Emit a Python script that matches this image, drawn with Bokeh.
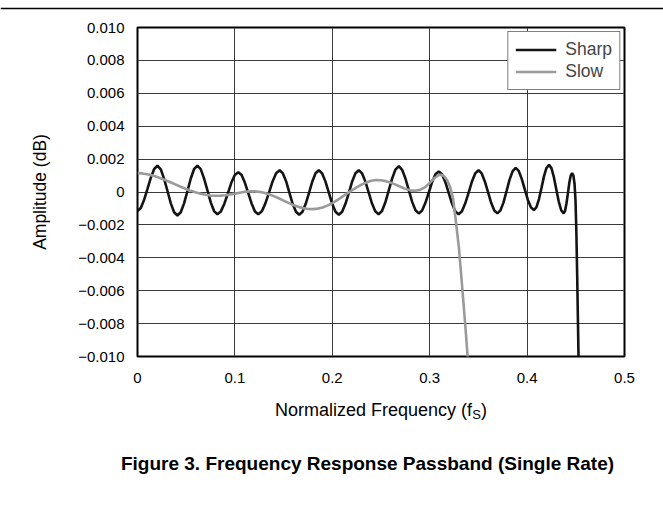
from bokeh.plotting import figure
from bokeh.models import (Range1d, FixedTicker, CustomJSTickFormatter,
                          Legend, LegendItem, Span)
from bokeh.layouts import column
from bokeh.embed import file_html
from bokeh.resources import INLINE
from bokeh.core.properties import value

# ---------------- data ----------------
sharp_freq = [
    0.0000, 0.0034, 0.0068, 0.0103, 0.0137, 0.0171, 0.0205,
    0.0239, 0.0273, 0.0308, 0.0342, 0.0376, 0.0410,
    0.0444, 0.0478, 0.0513, 0.0547, 0.0581, 0.0615,
    0.0649, 0.0683, 0.0718, 0.0752, 0.0786, 0.0820,
    0.0856, 0.0892, 0.0928, 0.0963, 0.0999, 0.1035,
    0.1069, 0.1103, 0.1138, 0.1172, 0.1206, 0.1240,
    0.1277, 0.1313, 0.1350, 0.1387, 0.1423, 0.1460,
    0.1493, 0.1527, 0.1560, 0.1593, 0.1627, 0.1660,
    0.1694, 0.1727, 0.1761, 0.1795, 0.1828, 0.1862,
    0.1896, 0.1930, 0.1965, 0.1999, 0.2033, 0.2067,
    0.2101, 0.2135, 0.2170, 0.2204, 0.2238, 0.2272,
    0.2306, 0.2340, 0.2374, 0.2407, 0.2441, 0.2475,
    0.2510, 0.2544, 0.2579, 0.2614, 0.2648, 0.2683,
    0.2717, 0.2751, 0.2786, 0.2820, 0.2854, 0.2888,
    0.2922, 0.2956, 0.2991, 0.3025, 0.3059, 0.3093,
    0.3127, 0.3161, 0.3195, 0.3229, 0.3263, 0.3297,
    0.3331, 0.3365, 0.3400, 0.3434, 0.3468, 0.3502,
    0.3534, 0.3566, 0.3599, 0.3631, 0.3663, 0.3695,
    0.3726, 0.3758, 0.3789, 0.3820, 0.3852, 0.3883,
    0.3914, 0.3945, 0.3977, 0.4008, 0.4039, 0.4070,
    0.4096, 0.4122, 0.4148, 0.4173, 0.4199, 0.4225,
    0.4250, 0.4275, 0.4300, 0.4325, 0.4350, 0.4375,
    0.4390, 0.4404, 0.4419, 0.4433, 0.4448, 0.4462,
    0.4475, 0.4487, 0.4497, 0.4506, 0.4514, 0.4521, 0.4528, 0.4532,
]
sharp_amp = [
    -0.00115, -0.00097, -0.000475, 0.00020, 0.000875, 0.00140, 0.00160,
    0.00138, 0.00080, 0.00006, -0.00069, -0.00123, -0.00143,
    -0.00123, -0.00069, 0.00006, 0.00082, 0.00140, 0.00160,
    0.00139, 0.00083, 0.00010, -0.00063, -0.00116, -0.00135,
    -0.00118, -0.00071, -0.00008, 0.00056, 0.00103, 0.00120,
    0.00103, 0.00056, -0.00008, -0.00071, -0.00118, -0.00135,
    -0.00117, -0.00069, -0.00004, 0.00064, 0.00114, 0.00132,
    0.00113, 0.00063, -0.00005, -0.00072, -0.00120, -0.00138,
    -0.00120, -0.00072, -0.00005, 0.00064, 0.00114, 0.00132,
    0.00113, 0.00063, -0.00005, -0.00072, -0.00120, -0.00138,
    -0.00120, -0.00072, -0.00005, 0.00064, 0.00114, 0.00132,
    0.00113, 0.00063, -0.00004, -0.00069, -0.00117, -0.00135,
    -0.00116, -0.00064, 0.00008, 0.00081, 0.00136, 0.00157,
    0.00135, 0.00082, 0.00010, -0.00060, -0.00111, -0.00130,
    -0.00113, -0.00066, -0.00003, 0.00061, 0.00108, 0.00125,
    0.00108, 0.00060, -0.00005, -0.00070, -0.00118, -0.00135,
    -0.00117, -0.00069, -0.00004, 0.00064, 0.00114, 0.00132,
    0.00113, 0.00064, -0.00001, -0.00066, -0.00113, -0.00130,
    -0.00112, -0.00063, 0.00005, 0.00075, 0.00127, 0.00147,
    0.00128, 0.00080, 0.00015, -0.00048, -0.00093, -0.00110,
    -0.00092, -0.00043, 0.00025, 0.00095, 0.00146, 0.00165,
    0.00145, 0.00090, 0.00015, -0.00058, -0.00111, -0.00130,
    -0.00114, -0.00070, -0.00008, 0.00054, 0.00100, 0.00115,
    0.00100, 0.00050, -0.00050, -0.00250, -0.00500, -0.00750, -0.01000, -0.01150,
]

slow_freq = [
    0.000, 0.005, 0.010, 0.015, 0.020, 0.025, 0.030, 0.035, 0.040, 0.045,
    0.050, 0.055, 0.060, 0.065, 0.070, 0.075, 0.080, 0.085, 0.090, 0.095,
    0.100, 0.105, 0.110, 0.115, 0.120, 0.125, 0.130, 0.135, 0.140, 0.145,
    0.150, 0.155, 0.160, 0.165, 0.170, 0.175, 0.180, 0.185, 0.190, 0.195,
    0.200, 0.205, 0.210, 0.215, 0.220, 0.225, 0.230, 0.235, 0.240, 0.245,
    0.250, 0.255, 0.260, 0.265, 0.270, 0.275, 0.280, 0.285, 0.290, 0.295,
    0.300, 0.305, 0.309, 0.312, 0.315, 0.318, 0.321, 0.324, 0.3265, 0.330,
    0.3334, 0.3368, 0.3392, 0.3400,
]
slow_amp = [
    0.00115, 0.00113, 0.00108, 0.00101, 0.00092, 0.00081, 0.00069, 0.00056, 0.00043, 0.00030,
    0.00018, 0.00007, -0.00003, -0.00011, -0.00017, -0.00021, -0.00023, -0.00022, -0.00020, -0.00015,
    -0.00010, -0.00004, 0.00001, 0.00004, 0.00004, 0.00001, -0.00005, -0.00014, -0.00025, -0.00038,
    -0.00052, -0.00066, -0.00079, -0.00090, -0.00098, -0.00103, -0.00104, -0.00101, -0.00094, -0.00083,
    -0.00068, -0.00050, -0.00030, -0.00010, 0.00010, 0.00028, 0.00045, 0.00058, 0.00068, 0.00073,
    0.00071, 0.00066, 0.00057, 0.00045, 0.00032, 0.00019, 0.00010, 0.00007, 0.00013, 0.00028,
    0.00055, 0.00085, 0.00102, 0.00105, 0.00095, 0.00070, 0.00030, -0.00040, -0.00160, -0.00340,
    -0.00580, -0.00830, -0.01020, -0.01090,
]

x_ticks = [0.0, 0.1, 0.2, 0.3, 0.4, 0.5]
x_tick_labels = ["0", "0.1", "0.2", "0.3", "0.4", "0.5"]
y_ticks = [-0.010, -0.008, -0.006, -0.004, -0.002, 0.0,
           0.002, 0.004, 0.006, 0.008, 0.010]
y_tick_labels = ["\u22120.010", "\u22120.008", "\u22120.006", "\u22120.004", "\u22120.002", "0",
                 "0.002", "0.004", "0.006", "0.008", "0.010"]
series_names = ["Sharp", "Slow"]
x_label_main = "Normalized Frequency (f"
x_label_sub = "S"
x_label_end = ")"
y_label = "Amplitude (dB)"
caption = "Figure 3. Frequency Response Passband (Single Rate)"

FONT = "Liberation Sans"
W = 663

# ---------------- top rule ----------------
top = figure(width=W, height=12, output_backend="svg", toolbar_location=None,
             x_range=Range1d(0, W), y_range=Range1d(0, 12),
             x_axis_location=None, y_axis_location=None, min_border=0,
             frame_align=False)
top.outline_line_color = None
top.grid.visible = False
top.add_layout(Span(location=4, dimension="width", line_color="black", line_width=1.5))

# ---------------- main chart ----------------
p = figure(width=W, height=386, output_backend="svg", toolbar_location=None,
           x_range=Range1d(0, 0.5), y_range=Range1d(-0.010, 0.010),
           min_border_left=137, min_border_right=39,
           min_border_top=15, min_border_bottom=42, frame_align=False)
p.background_fill_color = "white"
p.border_fill_color = "white"
p.outline_line_color = "black"
p.outline_line_width = 2

p.xaxis.ticker = FixedTicker(ticks=x_ticks)
p.yaxis.ticker = FixedTicker(ticks=y_ticks)
p.xaxis.formatter = CustomJSTickFormatter(args=dict(t=x_ticks, l=x_tick_labels), code="""
    for (let i = 0; i < t.length; i++) { if (Math.abs(t[i] - tick) < 1e-9) return l[i]; }
    return "";
""")
p.yaxis.formatter = CustomJSTickFormatter(args=dict(t=y_ticks, l=y_tick_labels), code="""
    for (let i = 0; i < t.length; i++) { if (Math.abs(t[i] - tick) < 1e-9) return l[i]; }
    return "";
""")
for ax in (p.xaxis, p.yaxis):
    ax.axis_line_color = None
    ax.major_tick_line_color = None
    ax.minor_tick_line_color = None
    ax.major_label_text_font = FONT
    ax.major_label_text_font_size = "15px"
    ax.major_label_text_color = "black"
p.xaxis.major_label_standoff = 10
p.yaxis.major_label_standoff = 7

p.yaxis.axis_label = y_label
p.yaxis.axis_label_text_font = FONT
p.yaxis.axis_label_text_font_size = "17.5px"
p.yaxis.axis_label_text_font_style = "normal"
p.yaxis.axis_label_text_color = "black"
p.yaxis.axis_label_standoff = 25

p.grid.grid_line_color = "#3a3a3a"
p.grid.grid_line_width = 1
p.xgrid.ticker = FixedTicker(ticks=x_ticks)
p.ygrid.ticker = FixedTicker(ticks=y_ticks)

r_sharp = p.line(sharp_freq, sharp_amp, line_color="#141414", line_width=2.6)
r_slow = p.line(slow_freq, slow_amp, line_color="#9a9a9a", line_width=2.6)

legend = Legend(items=[LegendItem(label=series_names[0], renderers=[r_sharp]),
                       LegendItem(label=series_names[1], renderers=[r_slow])],
                location="top_right")
legend.border_line_color = "black"
legend.border_line_width = 1
legend.background_fill_color = "white"
legend.background_fill_alpha = 1
legend.label_text_font = FONT
legend.label_text_font_size = "17.5px"
legend.glyph_width = 41
legend.glyph_height = 19
legend.label_height = 19
legend.label_standoff = 9
legend.padding = 7
legend.spacing = 1
legend.margin = 4
p.add_layout(legend)

# ---------------- x-axis title and caption (text below the chart) ----------------
HB = 110
bot = figure(width=W, height=HB, output_backend="svg", toolbar_location=None,
             x_range=Range1d(0, W), y_range=Range1d(0, HB),
             x_axis_location=None, y_axis_location=None, min_border=0,
             frame_align=False)
bot.outline_line_color = None
bot.grid.visible = False

bot.text(x=[471.6], y=[99], text=[x_label_main], text_align="right",
         text_baseline="middle", text_font=value(FONT), text_font_size="18px",
         text_color="black")
bot.text(x=[471.8], y=[94], text=[x_label_sub], text_align="left",
         text_baseline="middle", text_font=value(FONT), text_font_size="13px",
         text_color="black")
bot.text(x=[480.6], y=[99], text=[x_label_end], text_align="left",
         text_baseline="middle", text_font=value(FONT), text_font_size="18px",
         text_color="black")
bot.text(x=[367], y=[45], text=[caption], text_align="center",
         text_baseline="middle", text_font=value(FONT), text_font_size="19px",
         text_font_style="bold", text_color="black")

layout = column(top, p, bot, spacing=0)
open("out.html", "w").write(file_html(layout, INLINE))
